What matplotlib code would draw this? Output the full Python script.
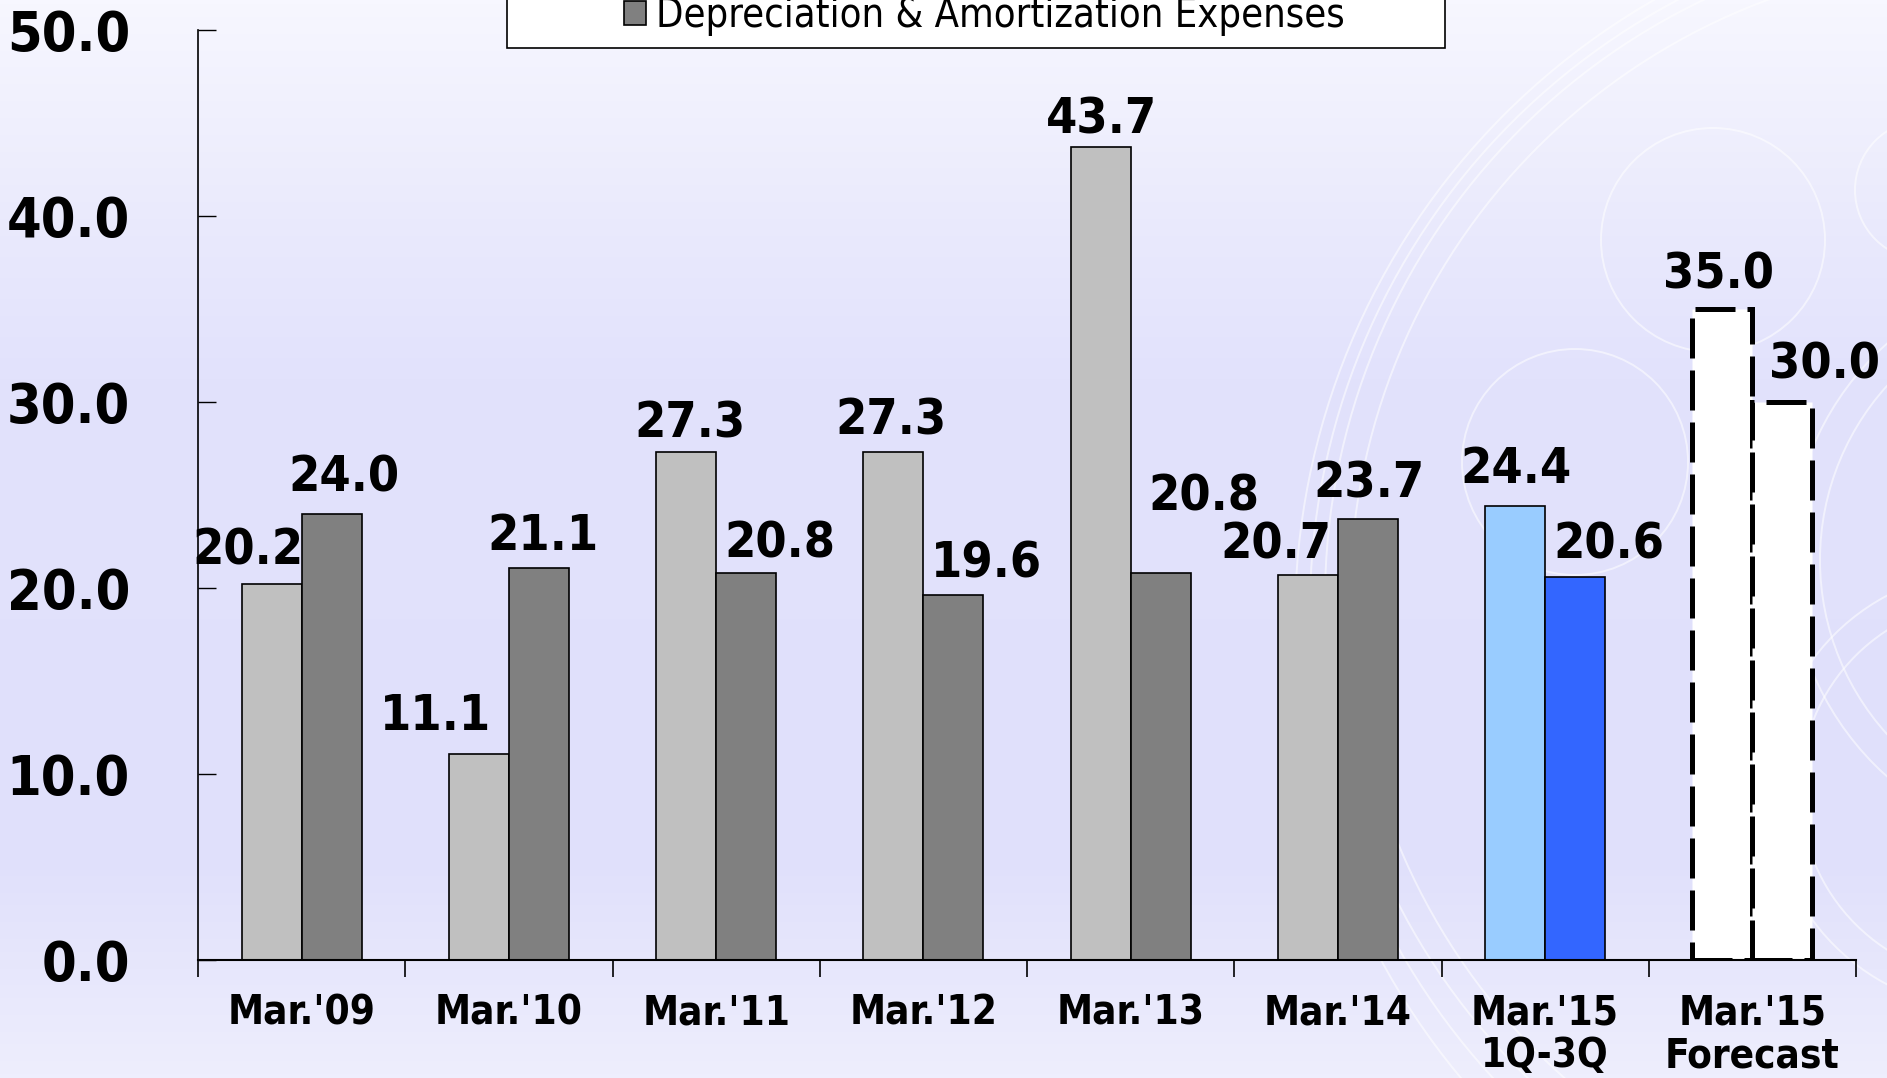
import numpy as np
import matplotlib
matplotlib.use("Agg")
import matplotlib.pyplot as plt
from matplotlib import font_manager as fm
from matplotlib.patches import Patch, Rectangle, Circle
from matplotlib.colors import LinearSegmentedColormap

# data
categories = ["Mar.'09", "Mar.'10", "Mar.'11", "Mar.'12", "Mar.'13", "Mar.'14",
              "Mar.'15\n1Q-3Q", "Mar.'15\nForecast"]
capex = [20.2, 11.1, 27.3, 27.3, 43.7, 20.7, 24.4, 35.0]
dep_amort = [24.0, 21.1, 20.8, 19.6, 20.8, 23.7, 20.6, 30.0]
legend_label = "Depreciation & Amortization Expenses"

# label nudges (points) as placed in the original slide
capex_off = [(-17, 24), (-31, 27), (3, 21), (-2, 23), (1, 20), (-23, 22), (1, 27), (-3, 25)]
dep_off = [(9, 26), (3, 23), (24, 21), (24, 23), (31, 55), (1, 26), (24, 23), (30, 27)]

capex_colors = ["#C0C0C0"] * 6 + ["#99CCFF", "white"]
dep_colors = ["#808080"] * 6 + ["#3366FF", "white"]

# condensed bold font if present, else shrink regular DejaVu
path = fm.findfont(fm.FontProperties(family="DejaVu Sans", weight="bold", stretch="condensed"))
cond = "Condensed" in path
k = 1.0 if cond else 0.9
stretch = "condensed"

W, H = 1887, 1078
fig = plt.figure(figsize=(W / 100, H / 100), dpi=100)

# background gradient + decorative circles
bg = fig.add_axes([0, 0, 1, 1], zorder=-1)
cmap = LinearSegmentedColormap.from_list("bg", [
    (0.0, "#F7F7FF"), (0.2, "#EAEAFC"), (0.35, "#E2E2FC"),
    (0.8, "#E0E0FB"), (1.0, "#EEEEFD")])
grad = np.linspace(0, 1, 256).reshape(-1, 1)
bg.imshow(grad, aspect="auto", cmap=cmap, extent=[0, W, H, 0])
for (cx, cy, r) in [(1713, 240, 112), (1575, 462, 113), (1925, 190, 70),
                    (1990, 600, 640), (1990, 600, 665), (2000, 610, 690), (2010, 620, 715),
                    (2080, 560, 260), (2080, 560, 290), (1990, 790, 190), (1990, 790, 220)]:
    bg.add_patch(Circle((cx, cy), r, fill=False, ec="white", lw=1.4, alpha=0.55))
bg.set_xlim(0, W)
bg.set_ylim(H, 0)
bg.axis("off")

ax = fig.add_axes([198 / W, 1 - 960 / H, (1856 - 198) / W, (960 - 30) / H], zorder=1)
ax.set_facecolor("none")

x = np.arange(len(categories))
w = 0.29
b1 = ax.bar(x - w / 2, capex, w, color=capex_colors, edgecolor="black", linewidth=1.2)
b2 = ax.bar(x + w / 2, dep_amort, w, color=dep_colors, edgecolor="black", linewidth=1.2)
for bars in (b1, b2):
    bars[-1].set_linestyle((0, (8, 2.4)))
    bars[-1].set_linewidth(3.6)

vfont = dict(fontsize=36 * k, fontweight="bold", fontstretch=stretch, ha="center", va="center")
for i in range(len(categories)):
    ax.annotate(f"{capex[i]:.1f}", (x[i] - w / 2, capex[i]), xytext=capex_off[i],
                textcoords="offset points", **vfont)
    ax.annotate(f"{dep_amort[i]:.1f}", (x[i] + w / 2, dep_amort[i]), xytext=dep_off[i],
                textcoords="offset points", **vfont)

ax.set_xlim(-0.5, len(categories) - 0.5)
ax.set_ylim(0, 50)
ax.set_yticks(np.arange(0, 51, 10))
ax.set_yticklabels([f"{v:.1f}" for v in np.arange(0, 51, 10)],
                   fontsize=40 * k, fontweight="bold", fontstretch=stretch)
ax.tick_params(axis="y", direction="in", length=13, width=1, pad=49)

ax.set_xticks(x)
ax.set_xticklabels(categories, fontsize=29 * k, fontweight="bold", fontstretch=stretch,
                   linespacing=1.1)
ax.set_xticks(np.arange(-0.5, len(categories)), minor=True)
ax.tick_params(axis="x", which="major", length=0, pad=24)
ax.tick_params(axis="x", which="minor", direction="out", length=12, width=1.2)

for s in ("top", "right"):
    ax.spines[s].set_visible(False)
ax.spines["left"].set_linewidth(1.2)
ax.spines["bottom"].set_linewidth(1.5)

# legend box (top entry cropped by the slide edge)
fig.patches.append(Rectangle((507 / W, 1 - 48 / H), (1445 - 507) / W, 0.2,
                             transform=fig.transFigure, facecolor="white",
                             edgecolor="black", linewidth=1.2, zorder=2))
fig.legend(handles=[Patch(facecolor="#808080", edgecolor="black", linewidth=1.2)],
           labels=[legend_label], loc="center left",
           bbox_to_anchor=(624 / W, 1 - 16 / H), frameon=False,
           borderaxespad=0, borderpad=0,
           prop=fm.FontProperties(size=28.5 * k, stretch=stretch),
           handlelength=0.55, handleheight=0.55, handletextpad=0.25)

fig.savefig("out.png", dpi=100)
